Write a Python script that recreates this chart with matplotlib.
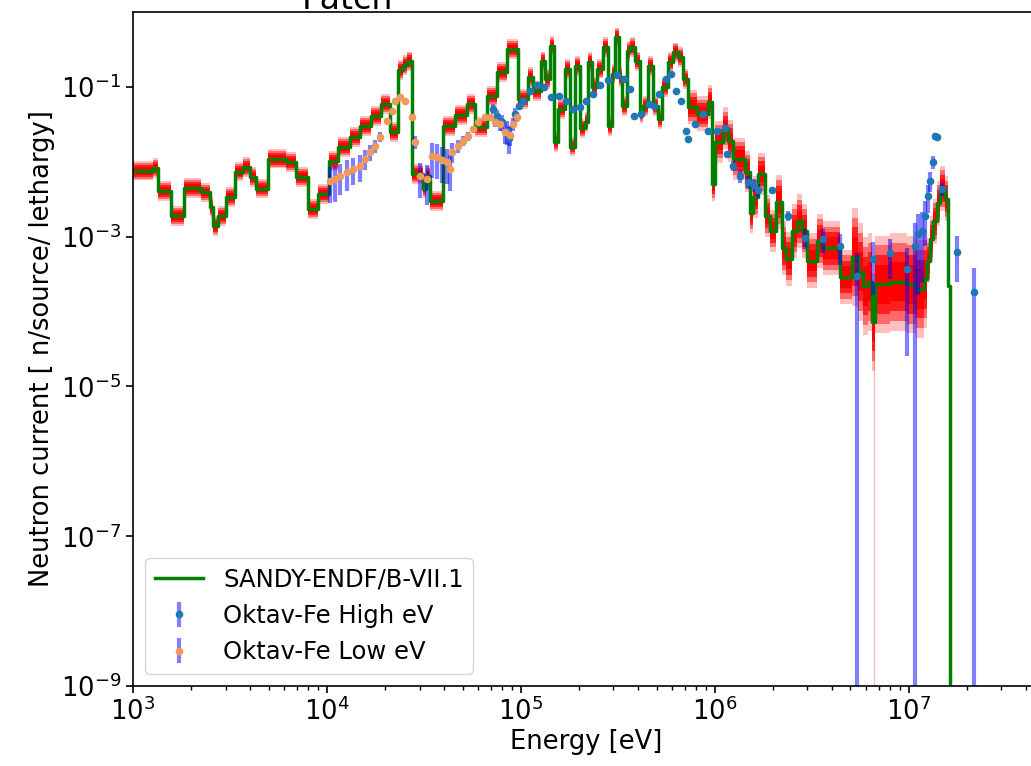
import numpy as np
import matplotlib
matplotlib.use("Agg")
import matplotlib.pyplot as plt
from matplotlib.ticker import NullLocator

# SANDY-ENDF/B-VII.1 group structure (lower edges, eV) and group values
sandy_edges = [1.0e3, 1.27e3, 1.35e3, 1.57e3, 1.83e3, 2.24e3, 2.49e3, 2.59e3, 2.74e3, 3.02e3,
               3.36e3, 3.69e3, 4.01e3, 4.31e3, 4.97e3, 6.15e3, 6.92e3, 7.98e3, 8.99e3, 1.024e4,
               1.14e4, 1.314e4, 1.48e4, 1.686e4, 1.898e4, 2.112e4, 2.323e4, 2.465e4, 2.585e4, 2.742e4,
               3.124e4, 3.238e4, 3.396e4, 3.962e4, 4.569e4, 5.268e4, 5.794e4, 6.679e4, 7.519e4, 8.47e4,
               9.65e4, 1.087e5, 1.153e5, 1.268e5, 1.329e5, 1.411e5, 1.48e5, 1.552e5, 1.686e5, 1.789e5,
               1.898e5, 2.014e5, 2.138e5, 2.215e5, 2.323e5, 2.465e5, 2.647e5, 2.809e5, 2.945e5, 3.051e5,
               3.201e5, 3.316e5, 3.519e5, 3.647e5, 3.869e5, 4.106e5, 4.255e5, 4.515e5, 4.79e5, 5.084e5,
               5.331e5, 5.725e5, 6.075e5, 6.448e5, 6.842e5, 7.26e5, 8.076e5, 9.203e5, 9.65e5, 1.0e6,
               1.10e6, 1.167e6, 1.238e6, 1.428e6, 1.515e6, 1.57e6, 1.666e6, 1.81e6, 1.921e6, 2.063e6,
               2.215e6, 2.323e6, 2.495e6, 2.647e6, 2.809e6, 2.981e6, 3.357e6, 3.604e6, 4.41e6, 5.084e6,
               5.459e6, 5.793e6, 6.148e6, 6.447e6, 6.68e6, 7.983e6, 9.766e6, 1.087e7, 1.195e7, 1.238e7,
               1.283e7, 1.329e7, 1.394e7, 1.445e7, 1.533e7, 1.589e7, 1.627e7, 2.0e7]
sandy_vals = [7.6e-3, 8.3e-3, 4.1e-3, 1.9e-3, 4.5e-3, 3.9e-3, 2.5e-3, 1.4e-3, 1.9e-3, 3.4e-3,
              7.4e-3, 8.5e-3, 6.3e-3, 4.4e-3, 1.1e-2, 1.0e-2, 6.3e-3, 2.35e-3, 3.7e-3, 1.03e-2,
              1.58e-2, 2.15e-2, 3.0e-2, 4.1e-2, 5.9e-2, 2.5e-2, 0.169, 0.196, 0.22, 6.9e-3,
              4.4e-3, 6.5e-3, 3.0e-3, 3.0e-2, 4.2e-2, 5.9e-2, 2.9e-2, 7.6e-2, 0.158, 0.32,
              6.9e-2, 0.136, 8.8e-2, 0.22, 0.128, 0.35, 1.85e-2, 5.1e-2, 0.174, 1.6e-2,
              0.19, 2.8e-2, 3.4e-2, 0.215, 0.1, 0.175, 0.34, 3.0e-2, 0.15, 0.46,
              0.136, 5.6e-2, 0.3, 0.34, 0.22, 4.4e-2, 5.6e-2, 0.19, 5.6e-2, 3.7e-2,
              0.1, 0.215, 0.29, 0.25, 0.128, 5.4e-2, 4.4e-2, 6.3e-2, 5.1e-3, 1.85e-2,
              2.8e-2, 1.9e-2, 1.1e-2, 7.4e-3, 2.1e-3, 3.4e-3, 6.9e-3, 1.9e-3, 1.2e-3, 2.9e-3,
              7.0e-4, 5.1e-4, 1.2e-3, 1.6e-3, 1.2e-3, 4.8e-4, 8.8e-4, 7.0e-4, 2.9e-4, 5.4e-4,
              3.4e-4, 2.2e-4, 2.5e-4, 7.3e-5, 2.3e-4, 2.5e-4, 2.3e-4, 2.0e-4, 2.7e-4, 4.8e-4,
              9.4e-4, 1.6e-3, 2.8e-3, 4.4e-3, 3.2e-3, 2.2e-4, 0.0]

# spread of the sampled (red) curves: multiplicative factor per energy range
spread_E = [1e3, 7e5, 1e6, 2e6, 5e6, 1.2e7]
spread_f = [1.35, 1.7, 1.9, 2.3, 4.5, 2.0]
zero_sample_E = [6.6e6]
zero_sample_top = [2.0e-4]

# Oktav-Fe measured, high energy part
high_E = [7.2e4, 7.5e4, 8.0e4, 8.5e4, 8.7e4, 9.3e4, 9.8e4, 1.03e5, 1.11e5, 1.21e5,
          1.31e5, 1.43e5, 1.57e5, 1.71e5, 1.85e5, 2.01e5, 2.16e5, 2.35e5, 2.55e5, 2.81e5,
          3.13e5, 3.40e5, 3.65e5, 3.82e5, 4.16e5, 4.57e5, 4.85e5, 5.14e5, 5.58e5, 5.93e5,
          6.29e5, 6.68e5, 7.1e5, 7.25e5, 7.89e5, 8.68e5, 9.2e5, 1.02e6, 1.13e6, 1.15e6,
          1.24e6, 1.35e6, 1.48e6, 1.59e6, 1.67e6, 1.97e6, 2.38e6, 2.91e6, 3.6e6, 4.41e6,
          5.4e6, 6.5e6, 8.0e6, 9.8e6, 1.07e7, 1.11e7, 1.17e7, 1.21e7, 1.25e7, 1.28e7,
          1.33e7, 1.36e7, 1.39e7, 1.48e7, 1.77e7, 2.16e7]
high_val = [0.051, 0.041, 0.034, 0.026, 0.021, 0.044, 0.056, 0.065, 0.089, 0.106,
            0.1, 0.074, 0.076, 0.065, 0.051, 0.054, 0.065, 0.081, 0.106, 0.124,
            0.145, 0.128, 0.094, 0.041, 0.044, 0.059, 0.056, 0.081, 0.128, 0.149,
            0.089, 0.065, 0.026, 0.020, 0.032, 0.044, 0.026, 0.026, 0.028, 0.0128,
            8.9e-3, 6.5e-3, 5.4e-3, 4.9e-3, 4.2e-3, 4.2e-3, 1.9e-3, 9.7e-4, 9.4e-4, 7.6e-4,
            3.0e-4, 5.1e-4, 6.1e-4, 3.7e-4, 7.4e-4, 1.1e-3, 1.2e-3, 1.9e-3, 3.5e-3, 5.6e-3,
            0.01, 0.022, 0.0216, 4.4e-3, 6.3e-4, 1.85e-4]
high_rel = [0.15, 0.2, 0.25, 0.35, 0.4, 0.2, 0.1, 0.05, 0.05, 0.05,
            0.05, 0.05, 0.05, 0.05, 0.05, 0.05, 0.05, 0.05, 0.05, 0.05,
            0.05, 0.05, 0.05, 0.05, 0.05, 0.05, 0.05, 0.05, 0.05, 0.05,
            0.05, 0.05, 0.05, 0.05, 0.05, 0.05, 0.05, 0.05, 0.05, 0.1,
            0.15, 0.2, 0.2, 0.2, 0.2, 0.1, 0.15, 0.3, 0.35, 0.45,
            1.05, 0.67, 0.55, 0.93, 1.05, 0.85, 0.8, 0.6, 0.4, 0.3,
            0.2, 0.1, 0.1, 0.2, 0.6, 1.05]

# Oktav-Fe measured, low energy part
low_E = [1.035e4, 1.099e4, 1.166e4, 1.268e4, 1.361e4, 1.48e4, 1.57e4, 1.666e4, 1.768e4, 1.876e4,
         2.038e4, 2.162e4, 2.242e4, 2.379e4, 2.524e4, 2.743e4, 2.843e4, 3.01e4, 3.277e4, 3.477e4,
         3.689e4, 3.914e4, 4.153e4, 4.306e4, 4.407e4, 4.73e4, 5.019e4, 5.325e4, 5.66e4, 6.0e4,
         6.52e4, 6.92e4, 7.34e4, 7.79e4, 8.27e4, 8.77e4, 9.09e4, 9.53e4]
low_val = [5.6e-3, 5.9e-3, 6.5e-3, 7.4e-3, 8.1e-3, 8.9e-3, 1.1e-2, 1.36e-2, 1.63e-2, 2.16e-2,
           3.5e-2, 4.8e-2, 6.5e-2, 7.4e-2, 6.5e-2, 4.0e-2, 1.85e-2, 6.5e-3, 5.9e-3, 1.2e-2,
           1.17e-2, 1.05e-2, 1.0e-2, 8.1e-3, 1.36e-2, 1.63e-2, 1.9e-2, 2.2e-2, 2.75e-2, 3.4e-2,
           4.0e-2, 4.0e-2, 3.4e-2, 3.2e-2, 2.5e-2, 2.3e-2, 3.2e-2, 4.0e-2]
low_rel = [0.5, 0.5, 0.45, 0.45, 0.4, 0.4, 0.3, 0.25, 0.2, 0.15,
           0.1, 0.1, 0.1, 0.1, 0.1, 0.1, 0.2, 0.5, 0.55, 0.5,
           0.5, 0.5, 0.5, 0.5, 0.3, 0.2, 0.15, 0.15, 0.1, 0.1,
           0.1, 0.1, 0.15, 0.2, 0.3, 0.3, 0.2, 0.15]

plt.rcParams['font.size'] = 18.5
plt.rcParams['xtick.major.size'] = 5
plt.rcParams['ytick.major.size'] = 5
plt.rcParams['xtick.minor.size'] = 3
plt.rcParams['xtick.major.width'] = 1.2
plt.rcParams['ytick.major.width'] = 1.2
plt.rcParams['xtick.minor.width'] = 1.0
plt.rcParams['axes.linewidth'] = 1.2

fig = plt.figure(figsize=(10.31, 7.66), dpi=100)
ax = fig.add_axes([0.129, 0.1044, 0.879, 0.8799])
ax.set_xscale('log')
ax.set_yscale('log')

edges = np.array(sandy_edges)
vals = np.array(sandy_vals + [sandy_vals[-1]])
idx = np.searchsorted(spread_E, edges, side='right') - 1
fac = np.array(spread_f)[idx]
pos = np.where(vals > 0, vals, np.nan)

# red band of sampled curves, darker towards the nominal values
for k, a in [(1.0, 0.25), (0.8, 0.45), (0.6, 0.7), (0.4, 1.0)]:
    ax.fill_between(edges, pos / fac ** k, pos * fac ** k, step='post',
                    color='red', alpha=a, lw=0)
ax.vlines(zero_sample_E, 1e-12, zero_sample_top, color='red', alpha=0.25, lw=1)

ax.step(edges, vals, where='post', color='green', lw=2.5, label='SANDY-ENDF/B-VII.1')

ax.errorbar(high_E, high_val, yerr=np.array(high_val) * np.array(high_rel), fmt='o',
            ms=4.5, color='C0', ecolor=(0, 0, 1, 0.5), elinewidth=3, label='Oktav-Fe High eV')
ax.errorbar(low_E, low_val, yerr=np.array(low_val) * np.array(low_rel), fmt='o',
            ms=4.5, color='#f09a5a', ecolor=(0, 0, 1, 0.5), elinewidth=3,
            label='Oktav-Fe Low eV')

ax.set_xlim(1e3, 4.7e7)
ax.set_ylim(1e-9, 1e0)
ax.set_yticks([1e-9, 1e-7, 1e-5, 1e-3, 1e-1])
ax.yaxis.set_minor_locator(NullLocator())
ax.set_xlabel('Energy [eV]', labelpad=2)
ax.set_ylabel('Neutron current [ n/source/ lethargy]')
ax.legend(loc='lower left', fontsize=17.5)

fig.text(0.3375, 0.9885, 'Patch', fontsize=24, ha='center', va='baseline')

fig.savefig('out.png', dpi=100)
